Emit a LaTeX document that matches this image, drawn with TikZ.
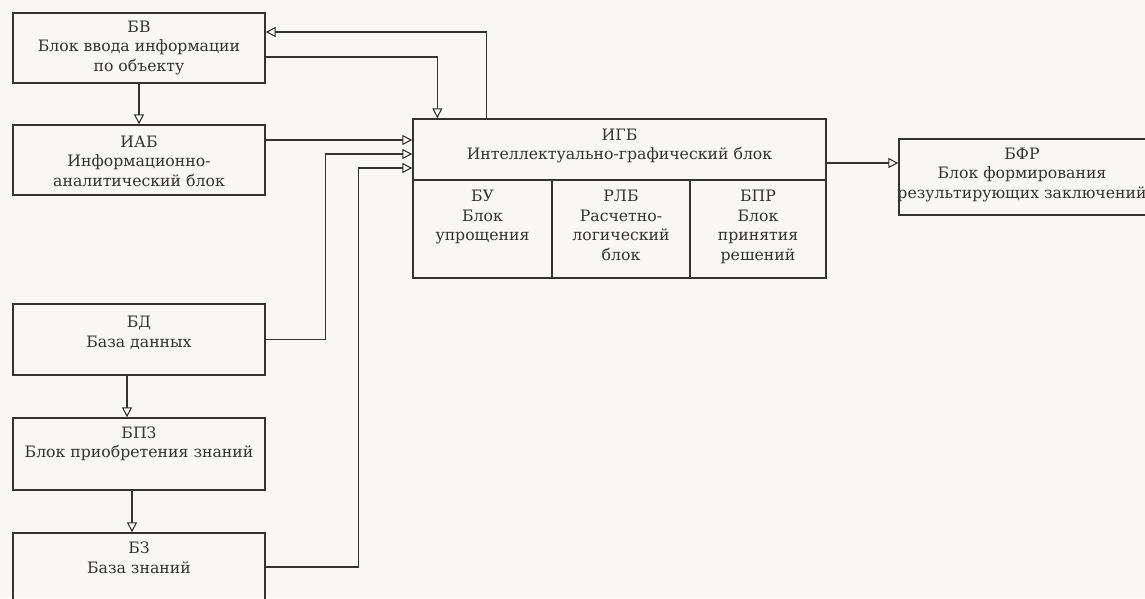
\documentclass[tikz,border=0pt]{standalone}
\usepackage{fontspec}
\setmainfont{DejaVu Serif}
\usetikzlibrary{arrows.meta,calc}
\definecolor{ink}{HTML}{333333}
\definecolor{paper}{HTML}{F8F7F4}
\tikzset{
  blk/.style={draw=ink, line width=1.3pt, rectangle, inner sep=0pt},
  txt/.style={text=ink, align=center, inner sep=0pt, font=\fontsize{15.7}{19.5}\selectfont},
  arr/.style={draw=ink, line width=1.3pt, -{Triangle[open, length=10pt, width=10pt, line width=1.1pt]}},
  ln/.style={draw=ink, line width=1.3pt}
}
\begin{document}
\begin{tikzpicture}[x=1pt, y=-1pt]
\fill[paper] (0,0) rectangle (1145,598);
\clip (0,0) rectangle (1145,598);
% left column boxes
\node[blk, minimum width=252pt, minimum height=70pt] (bv) at (139,48) {};
\node[txt] (bvt) at (139,48) {БВ\\Блок ввода информации\\по объекту};
\node[blk, minimum width=252pt, minimum height=70pt] (iab) at (139,160) {};
\node[txt] (iabt) at (139,161) {ИАБ\\Информационно-\\аналитический блок};
\node[blk, minimum width=252pt, minimum height=71pt] (bd) at (139,339.5) {};
\node[txt] (bdt) at (139,333) {БД\\База данных};
\node[blk, minimum width=252pt, minimum height=72pt] (bpz) at (139,454) {};
\node[txt] (bpzt) at (139,444) {БПЗ\\Блок приобретения знаний};
\node[blk, minimum width=252pt, minimum height=77pt] (bz) at (139,571.5) {};
\node[txt] (bzt) at (139,558) {БЗ\\База знаний};
% IGB
\node[blk, minimum width=413pt, minimum height=159pt] (igb) at (619.5,198.5) {};
\draw[ln] (igb.west |- 0,180) -- (igb.east |- 0,180);
\draw[ln] (552,180) -- (552 ,278);
\draw[ln] (690,180) -- (690,278);
\node[txt] (igbt) at (619.5,146) {ИГБ\\Интеллектуально-графический блок};
\node[txt, anchor=north] (bu) at (482.5,190) {БУ\\Блок\\упрощения};
\node[txt, anchor=north] (rlb) at (621,190) {РЛБ\\Расчетно-\\логический\\блок};
\node[txt, anchor=north] (bpr) at (758,190) {БПР\\Блок\\принятия\\решений};
% BFR
\node[blk, minimum width=260pt, minimum height=76pt] (bfr) at (1029,177) {};
\node[txt] (bfrt) at (1022,175) {БФР\\Блок формирования\\результирующих заключений};
% connectors
\draw[arr] ([xshift=74pt]igb.north west) |- ([yshift=16pt]bv.east);
\draw[arr] ([yshift=-9pt]bv.east) -| ([xshift=25pt]igb.north west);
\draw[arr] (bv) -- (iab);
\draw[arr] ([yshift=20pt]iab.east) -- ([yshift=58.5pt]igb.west);
\draw[arr] (bd.east) -- ++(60,0) |- ([yshift=44.5pt]igb.west);
\draw[arr] ([yshift=4.5pt]bz.east) -- ++(93,0) |- ([yshift=30.5pt]igb.west);
\draw[arr] ([xshift=-12pt]bd.south) -- ([xshift=-12pt]bpz.north);
\draw[arr] ([xshift=-7pt]bpz.south) -- ([xshift=-7pt]bz.north);
\draw[arr] ([yshift=35.5pt]igb.east) -- ([yshift=35.5pt]igb.east -| bfr.west);
\end{tikzpicture}
\end{document}
